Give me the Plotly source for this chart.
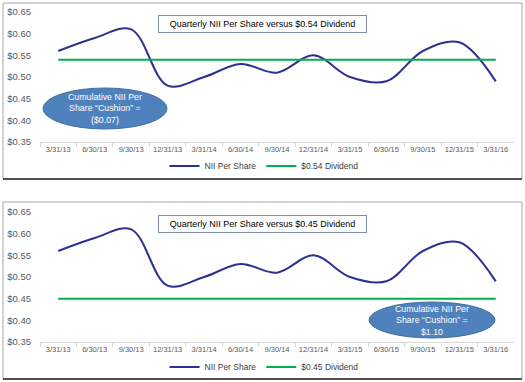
import plotly.graph_objects as go

W, H = 525, 382

# ---- data ----
quarters = ["3/31/13", "6/30/13", "9/30/13", "12/31/13", "3/31/14", "6/30/14", "9/30/14",
            "12/31/14", "3/31/15", "6/30/15", "9/30/15", "12/31/15", "3/31/16"]
nii_per_share = [0.56, 0.59, 0.61, 0.48, 0.50, 0.53, 0.51, 0.55, 0.50, 0.49, 0.56, 0.58, 0.49]
dividend_top = 0.54
dividend_bottom = 0.45
y_ticks = [0.35, 0.40, 0.45, 0.50, 0.55, 0.60, 0.65]

NAVY = "#2E3192"
GREEN = "#00B050"
FONT = "Arial, Liberation Sans, sans-serif"


def px(x):
    return x / W


def py(y):
    return 1 - y / H


fig = go.Figure()

panels = [
    dict(sfx="", leg="legend", div=dividend_top, ydom=(142, 12), box=(3, 3, 522, 179),
         title_y=23.5, ell=(43, 88, 167, 129), ell_text="Cumulative NII Per<br>Share \u201cCushion\u201d =<br>($0.07)",
         leg_y=166),
    dict(sfx="2", leg="legend2", div=dividend_bottom, ydom=(342, 212), box=(3, 202, 522, 379),
         title_y=223.5, ell=(369, 302, 495, 338), ell_text="Cumulative NII Per<br>Share \u201cCushion\u201d =<br>$1.10",
         leg_y=367),
]

shapes = []
annotations = []
layout_axes = {}

for p in panels:
    sfx = p["sfx"]
    xa = "x" + sfx
    ya = "y" + sfx
    div_name = "$%.2f Dividend" % p["div"]
    fig.add_trace(go.Scatter(
        x=quarters, y=nii_per_share, mode="lines", name="NII Per Share",
        line=dict(color=NAVY, width=2, shape="spline", smoothing=1.0),
        xaxis=xa, yaxis=ya, legend=p["leg"], hoverinfo="skip"))
    fig.add_trace(go.Scatter(
        x=quarters, y=[p["div"]] * len(quarters), mode="lines", name=div_name,
        line=dict(color=GREEN, width=2),
        xaxis=xa, yaxis=ya, legend=p["leg"], hoverinfo="skip"))

    layout_axes["xaxis" + sfx] = dict(
        domain=[px(40), px(514)], type="category", anchor=ya, range=[-0.5, len(quarters) - 0.5],
        tickson="boundaries", ticks="outside", ticklen=4, tickcolor="#D9D9D9", tickangle=0,
        showline=True, linecolor="#D9D9D9", linewidth=1, showgrid=False, zeroline=False,
        automargin=False,
        tickfont=dict(family=FONT, size=7.5, color="#595959"), fixedrange=True)
    layout_axes["yaxis" + sfx] = dict(
        domain=[py(p["ydom"][0]), py(p["ydom"][1])], range=[0.35, 0.65], anchor=xa,
        tickvals=y_ticks, tickformat="$.2f", showgrid=False, showline=False, zeroline=False,
        ticks="", ticklabelstandoff=8, automargin=False,
        tickfont=dict(family=FONT, size=9.5, color="#595959"), fixedrange=True)

    # panel border
    x0, y0, x1, y1 = p["box"]
    shapes.append(dict(type="rect", xref="paper", yref="paper", x0=px(x0), x1=px(x1),
                       y0=py(y1), y1=py(y0), line=dict(color="#A6A6A6", width=1),
                       fillcolor="rgba(0,0,0,0)", layer="below"))
    shapes.append(dict(type="line", xref="paper", yref="paper", x0=px(x0), x1=px(x1),
                       y0=py(y1), y1=py(y1), line=dict(color="#262626", width=1.5)))

    # title box
    annotations.append(dict(
        xref="paper", yref="paper", x=px(262.5), y=py(p["title_y"]), xanchor="center", yanchor="middle",
        text="Quarterly NII Per Share versus $%.2f Dividend" % p["div"], showarrow=False,
        font=dict(family=FONT, size=9, color="#000000"),
        width=205, height=14, borderpad=1, bordercolor="#7F8FA9", borderwidth=1, bgcolor="white"))

    # ellipse callout
    ex0, ey0, ex1, ey1 = p["ell"]
    shapes.append(dict(type="circle", xref="paper", yref="paper", x0=px(ex0), x1=px(ex1),
                       y0=py(ey1), y1=py(ey0), fillcolor="#4F81BD",
                       line=dict(color="#41709F", width=1)))
    annotations.append(dict(
        xref="paper", yref="paper", x=px((ex0 + ex1) / 2), y=py((ey0 + ey1) / 2),
        xanchor="center", yanchor="middle", showarrow=False, text=p["ell_text"],
        font=dict(family=FONT, size=8.8, color="white")))

    layout_axes[p["leg"]] = dict(
        orientation="h", x=px(264), y=py(p["leg_y"]), xanchor="center", yanchor="middle",
        font=dict(family=FONT, size=8.5, color="#404040"), itemwidth=30,
        bgcolor="rgba(0,0,0,0)", tracegroupgap=0)

fig.update_layout(
    width=W, height=H, margin=dict(l=0, r=0, t=0, b=0),
    paper_bgcolor="white", plot_bgcolor="white",
    showlegend=True, shapes=shapes, annotations=annotations,
    **layout_axes)

fig.write_html("out.html", config={"displayModeBar": False},
               post_script="document.body.style.margin='0';")
